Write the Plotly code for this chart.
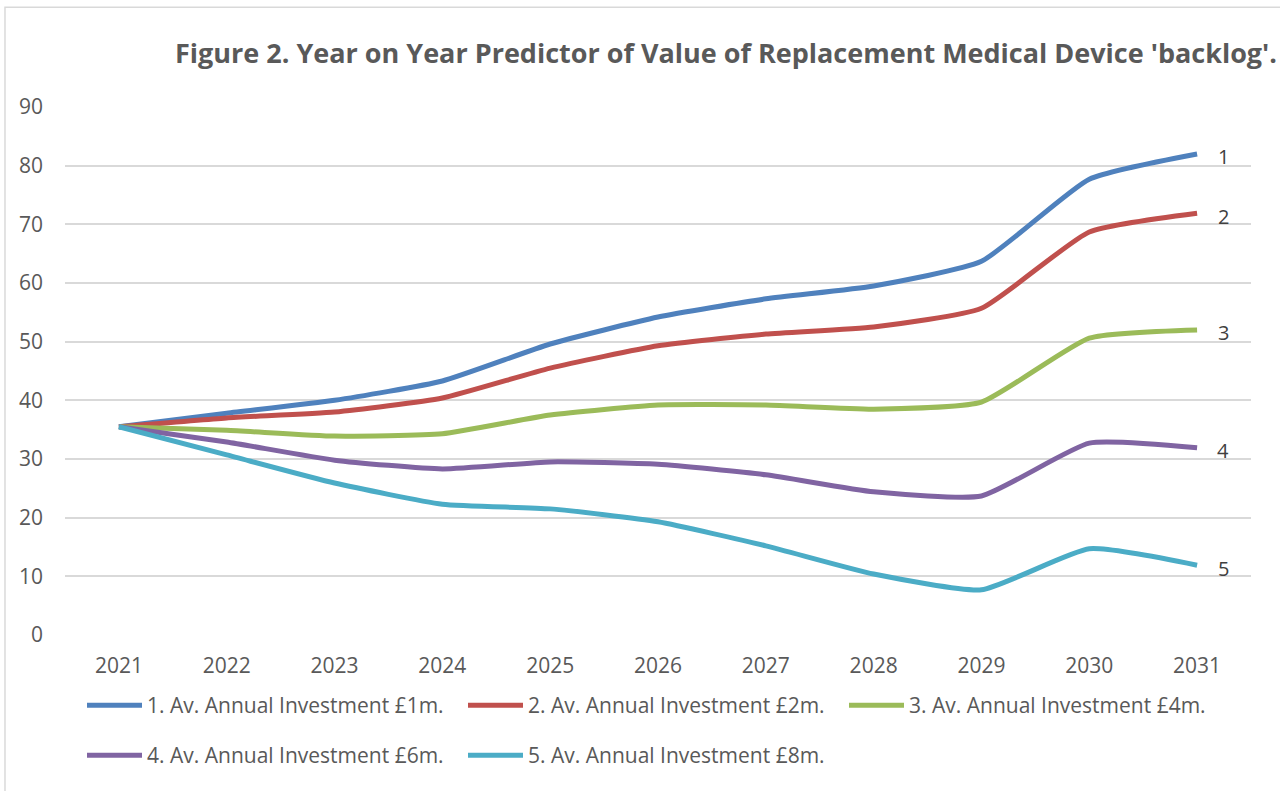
import plotly.graph_objects as go

years = [2021, 2022, 2023, 2024, 2025, 2026, 2027, 2028, 2029, 2030, 2031]
series_names = [
    "1. Av. Annual Investment £1m.",
    "2. Av. Annual Investment £2m.",
    "3. Av. Annual Investment £4m.",
    "4. Av. Annual Investment £6m.",
    "5. Av. Annual Investment £8m.",
]
inv_1m = [35.5, 37.8, 40.0, 43.3, 49.6, 54.2, 57.3, 59.5, 63.7, 77.7, 82.0]
inv_2m = [35.5, 37.0, 38.0, 40.4, 45.5, 49.3, 51.3, 52.5, 55.7, 68.7, 71.9]
inv_4m = [35.5, 34.9, 33.9, 34.3, 37.5, 39.2, 39.2, 38.5, 39.7, 50.6, 52.0]
inv_6m = [35.5, 32.9, 29.8, 28.3, 29.5, 29.1, 27.3, 24.4, 23.7, 32.7, 31.9]
inv_8m = [35.5, 30.7, 25.9, 22.3, 21.5, 19.3, 15.2, 10.4, 7.7, 14.7, 11.9]
end_labels = ["1", "2", "3", "4", "5"]

all_series = [inv_1m, inv_2m, inv_4m, inv_6m, inv_8m]
colors = ["#4F81BD", "#C0504D", "#9BBB59", "#8064A2", "#4BACC6"]
legend_ids = ["legend", "legend", "legend", "legend2", "legend2"]

fig = go.Figure()
for name, vals, col, lg in zip(series_names, all_series, colors, legend_ids):
    fig.add_trace(go.Scatter(
        x=years, y=vals, name=name, mode="lines", legend=lg,
        line=dict(color=col, width=5, shape="spline", smoothing=0.5),
    ))

for lab, vals in zip(end_labels, all_series):
    fig.add_annotation(
        x=years[-1], y=vals[-1], text=lab, showarrow=False,
        xshift=26, yshift=-3, xanchor="center", yanchor="middle",
        font=dict(family="Open Sans", size=20, color="#404040"),
    )

fig.add_shape(
    type="rect", xref="paper", yref="paper",
    x0=-0.0506, x1=1.06, y0=-0.4, y1=1.189,
    line=dict(color="#D9D9D9", width=1.5), fillcolor="rgba(0,0,0,0)", layer="below",
)

legend_common = dict(
    orientation="h", xref="container", yref="container",
    x=82 / 1280, xanchor="left", yanchor="top",
    entrywidth=311, entrywidthmode="pixels",
    font=dict(family="Open Sans", size=21, color="#595959"),
    itemwidth=55, tracegroupgap=0, bgcolor="rgba(0,0,0,0)",
)

fig.update_layout(
    width=1280, height=791,
    paper_bgcolor="white", plot_bgcolor="white",
    margin=dict(l=65, r=29, t=107, b=156, autoexpand=False),
    title=dict(
        text="<b>Figure 2. Year on Year Predictor of Value of Replacement Medical Device 'backlog'.</b>",
        x=726 / 1280, xanchor="center", xref="container",
        y=1 - 54 / 791, yanchor="middle", yref="container",
        font=dict(family="Open Sans", size=27, color="#595959"),
    ),
    font=dict(family="Open Sans", color="#595959"),
    xaxis=dict(
        range=[2020.5, 2031.5], tickmode="array", tickvals=years,
        ticktext=[str(y) for y in years], showgrid=False, zeroline=False,
        showline=False, ticks="", ticklabelstandoff=16, automargin=False,
        tickfont=dict(size=21, color="#595959"),
    ),
    yaxis=dict(
        range=[0, 90], dtick=10, showgrid=True, gridcolor="#D9D9D9", gridwidth=1.5,
        zeroline=False, showline=False, ticks="", ticklabelstandoff=21, automargin=False,
        tickfont=dict(size=21, color="#595959"),
    ),
    legend=dict(legend_common, y=1 - 685 / 791),
    legend2=dict(legend_common, y=1 - 735 / 791),
    showlegend=True,
)

fig.write_html("out.html", config={"displayModeBar": False},
               post_script="document.body.style.margin='0';")
